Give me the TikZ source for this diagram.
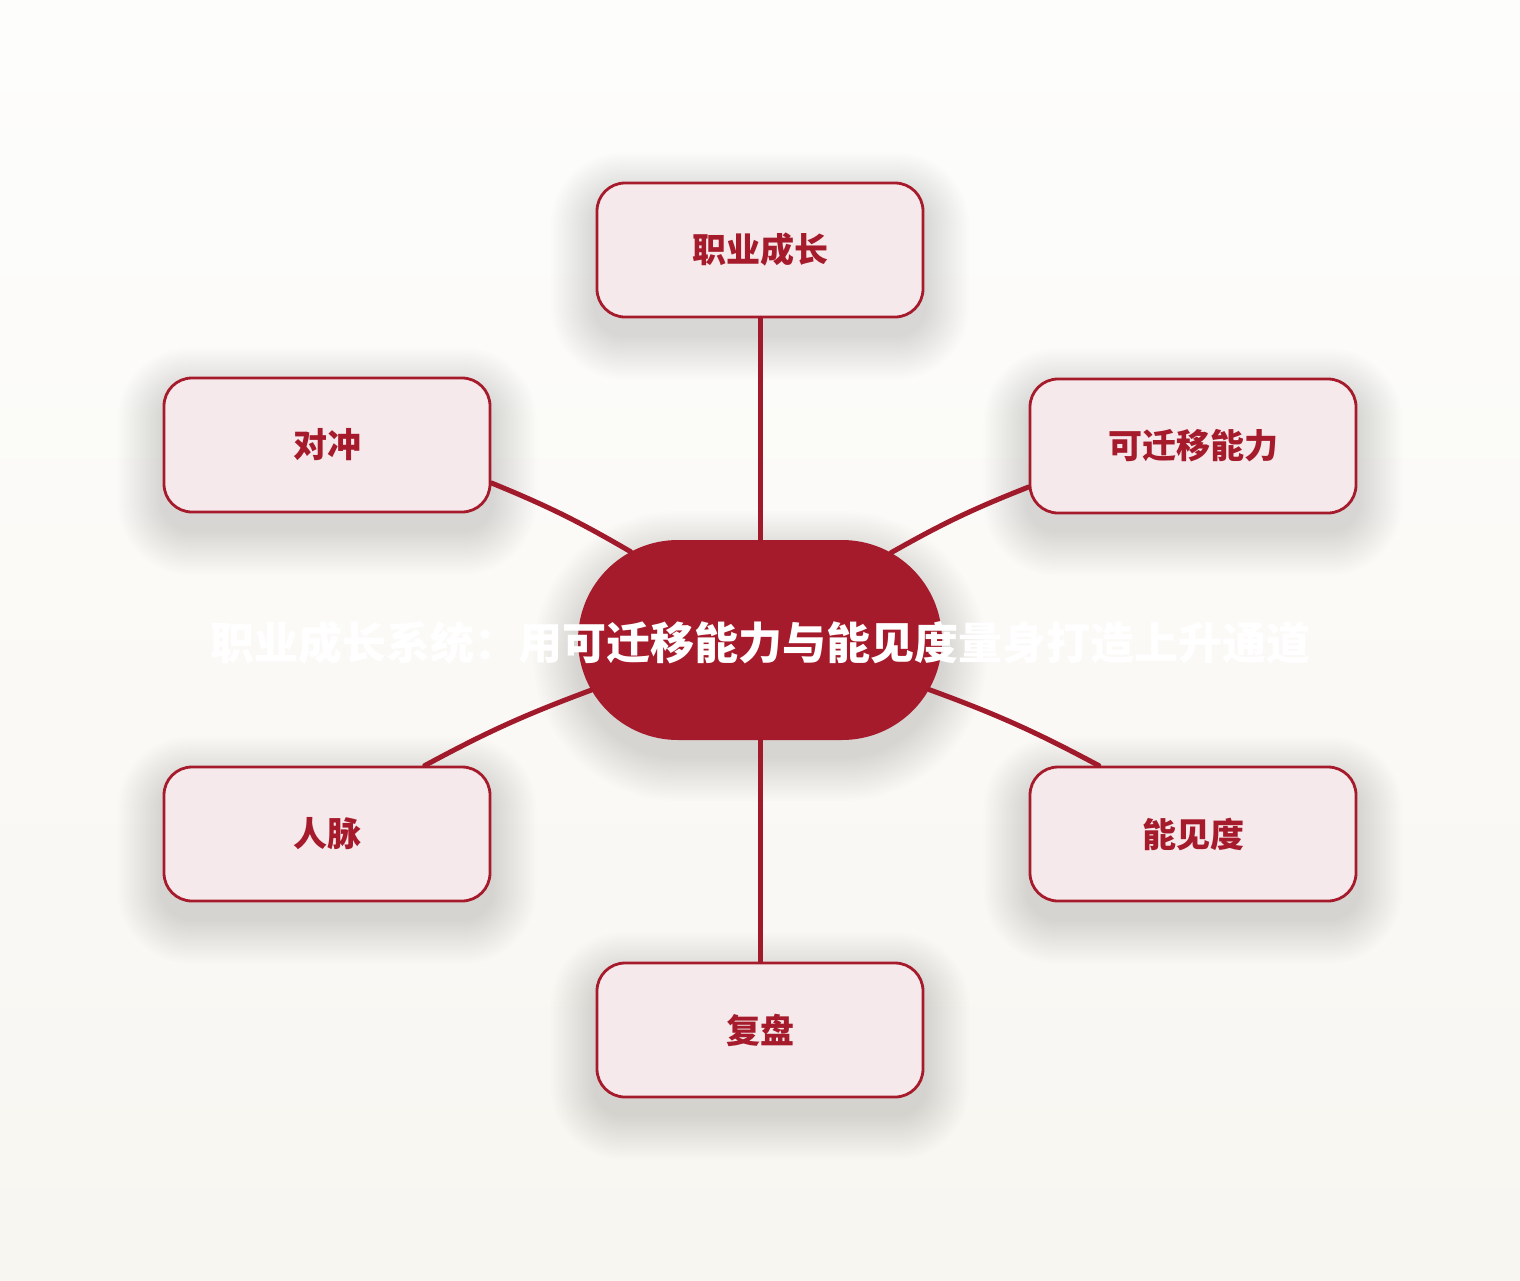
\documentclass[tikz,border=0pt]{standalone}
\usepackage{fontspec}
\newfontfamily\cjk{Noto Sans CJK SC}
\usetikzlibrary{shapes.misc,calc}
\definecolor{hubred}{HTML}{A61B2B}
\definecolor{linkred}{HTML}{A01A2B}
\definecolor{boxfill}{HTML}{F5E9EB}
\definecolor{bgtop}{HTML}{FDFDFC}
\definecolor{bgbot}{HTML}{F8F6F1}
\pgfdeclarelayer{bglayer}
\pgfdeclarelayer{shadowlayer}
\pgfsetlayers{bglayer,shadowlayer,main}
\begin{document}
\begin{tikzpicture}[x=1pt,y=-1pt,
  leaf/.style={rectangle, rounded corners=28pt, draw=hubred, line width=2.8pt, fill=boxfill,
    minimum width=326pt, minimum height=134pt, inner sep=0pt,
    font=\cjk\bfseries\fontsize{34}{40}\selectfont, text=hubred},
  hub/.style={rounded rectangle, fill=hubred, minimum width=364pt, minimum height=200pt, inner sep=0pt},
  hubtext/.style={font=\cjk\bfseries\fontsize{44}{52}\selectfont, text=white, inner sep=0pt},
  link/.style={draw=linkred, line width=5pt, line cap=round},
  shadowpiece/.style={fill=black, opacity=0.0095}]
\useasboundingbox (0,0) rectangle (1520,1280);
\begin{pgfonlayer}{bglayer}
\shade[top color=bgtop, bottom color=bgbot] (0,0) rectangle (1520,1280);
\end{pgfonlayer}

\node[leaf] (career) at (760,250) {职业成长};
\node[leaf] (hedge) at (327,445) {对冲};
\node[leaf] (transfer) at (1193,446) {可迁移能力};
\node[leaf] (network) at (327,834) {人脉};
\node[leaf] (visible) at (1193,834) {能见度};
\node[leaf] (review) at (760,1030) {复盘};
\node[hub] (core) at (760,640) {};

\begin{pgfonlayer}{shadowlayer}
\foreach \n in {career,hedge,transfer,network,visible,review}{
  \foreach \i [evaluate=\i as \r using 2.5*\i, evaluate=\i as \rc using 28+2.5*\i] in {1,...,18}{
    \fill[shadowpiece, rounded corners=\rc pt]
      ($(\n.south west)+(-\r,\r+16)$) rectangle ($(\n.north east)+(\r,-\r+16)$);
  }
}
\foreach \i [evaluate=\i as \r using 2.5*\i, evaluate=\i as \rc using 100+2.5*\i] in {1,...,18}{
  \fill[shadowpiece, rounded corners=\rc pt]
    ($(core.center)+(-182-\r,100+\r+16)$) rectangle ($(core.center)+(182+\r,-100-\r+16)$);
}
\end{pgfonlayer}

\draw[link] (core) -- (career);
\draw[link] (core) -- (review);
\draw[link] (core) to[bend right=4] (hedge.-13.5);
\draw[link] (core) to[bend left=4] (transfer.-166.2);
\draw[link] (core) to[bend right=4] (network.35.8);
\draw[link] (core) to[bend left=4] (visible.144.2);

\node[hubtext] (title) at (760,643) {职业成长系统：用可迁移能力与能见度量身打造上升通道};
\end{tikzpicture}
\end{document}
